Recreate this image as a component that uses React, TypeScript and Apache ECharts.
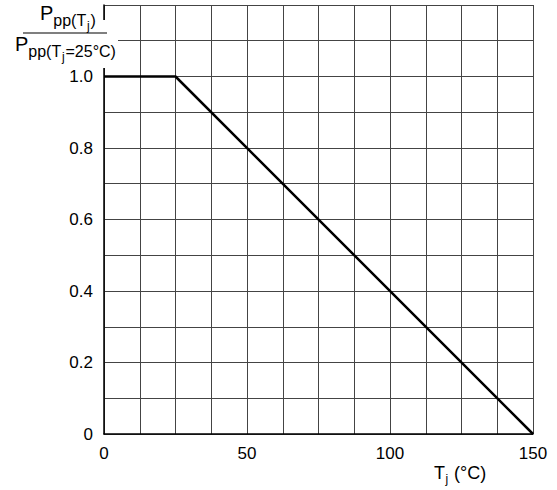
import React, { useEffect, useRef } from "react";
import * as echarts from "echarts";

const curveTemps = [0, 25, 150];
const curveRatios = [1.0, 1.0, 0.0];
const xTickLabels = [0, 50, 100, 150];
const yTickLabels = [0, 0.2, 0.4, 0.6, 0.8, 1.0];

export default function App() {
  const ref = useRef<HTMLDivElement>(null);
  useEffect(() => {
    document.body.style.margin = "0";
    const chart = echarts.init(ref.current!, null, { renderer: "svg" });
    const font = "'Liberation Sans', Arial, sans-serif";
    const txt = (text: string, x: number, y: number, size: number) => ({
      type: "text",
      z: 102,
      x,
      y,
      style: { text, x: 0, y: 0, fontSize: size, fontFamily: font, fill: "#000", verticalAlign: "middle", align: "left" },
    });
    chart.setOption({
      animation: false,
      grid: { left: 104, top: 5, width: 429, height: 429, containLabel: false },
      xAxis: {
        type: "value",
        min: 0,
        max: 150,
        interval: 12.5,
        axisLine: { show: true, lineStyle: { color: "#000", width: 1.5 } },
        axisTick: { show: false },
        splitLine: { show: true, lineStyle: { color: "#444", width: 1 } },
        axisLabel: {
          margin: 11,
          fontSize: 17,
          fontFamily: font,
          color: "#000",
          formatter: (v: number) => (xTickLabels.includes(v) ? String(v) : ""),
        },
      },
      yAxis: {
        type: "value",
        min: 0,
        max: 1.2,
        interval: 0.1,
        axisLine: { show: true, lineStyle: { color: "#000", width: 1.5 } },
        axisTick: { show: false },
        splitLine: { show: true, lineStyle: { color: "#444", width: 1 } },
        axisLabel: {
          margin: 11,
          fontSize: 17,
          fontFamily: font,
          color: "#000",
          formatter: (v: number) => {
            const r = Math.round(v * 10) / 10;
            const match = yTickLabels.find((t) => Math.abs(t - r) < 1e-6);
            if (match === undefined) return "";
            return match === 0 ? "0" : match.toFixed(1);
          },
        },
      },
      series: [
        {
          type: "line",
          data: curveTemps.map((t, i) => [t, curveRatios[i]]),
          symbol: "none",
          lineStyle: { color: "#000", width: 2.5 },
        },
      ],
      graphic: [
        { type: "rect", z: 100, shape: { x: 0, y: 20, width: 118, height: 48 }, style: { fill: "#fff" } },
        { type: "line", z: 101, shape: { x1: 23, y1: 33, x2: 107, y2: 33 }, style: { stroke: "#000", lineWidth: 1.2 } },
        // numerator
        txt("P", 40, 13.1, 20),
        txt("pp(T", 53.3, 20.5, 16),
        txt("j", 87, 25.8, 12),
        txt(")", 90.5, 20.5, 16),
        // denominator
        txt("P", 15, 44.1, 20),
        txt("pp(T", 28.3, 51.5, 16),
        txt("j", 62, 56.8, 12),
        txt("=25°C)", 65.5, 51.5, 16),
        // x axis name
        txt("T", 434, 472.8, 18),
        txt("j", 445.5, 479, 12),
        txt(" (°C)", 449, 472.8, 18),
      ],
    });
    return () => chart.dispose();
  }, []);
  return <div ref={ref} style={{ position: "absolute", left: 0, top: 0, width: 557, height: 490 }} />;
}
